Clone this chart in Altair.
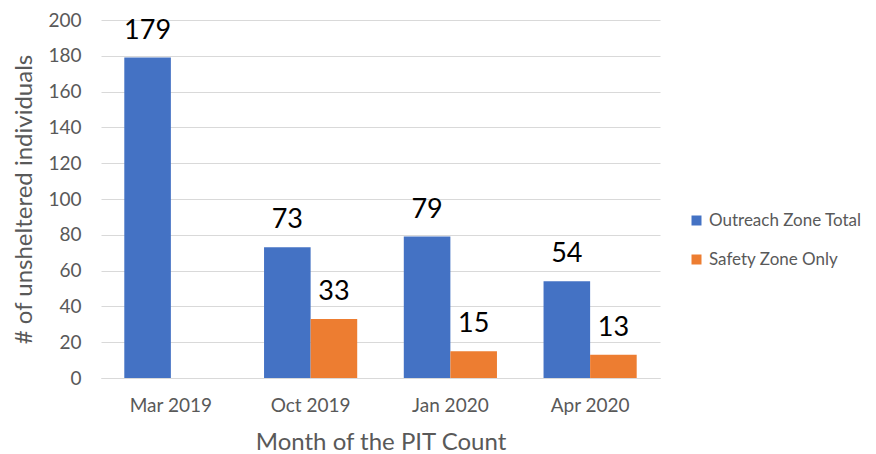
import altair as alt
import pandas as pd

months = ["Mar 2019", "Oct 2019", "Jan 2020", "Apr 2020"]
series = ["Outreach Zone Total", "Safety Zone Only"]
outreach = [179, 73, 79, 54]
safety = [None, 33, 15, 13]
colors = ["#4472C4", "#ED7D31"]
y_ticks = [0, 20, 40, 60, 80, 100, 120, 140, 160, 180, 200]

rows = []
for m, o, s in zip(months, outreach, safety):
    rows.append({"month": m, "series": series[0], "value": o})
    if s is not None:
        rows.append({"month": m, "series": series[1], "value": s})
df = pd.DataFrame(rows)

FONT = "Lato"
GRAY = "#595959"
GRID = "#d9d9d9"

base = alt.Chart(df).encode(
    x=alt.X(
        "month:N",
        sort=months,
        scale=alt.Scale(paddingInner=1 / 3, paddingOuter=1 / 6),
        axis=alt.Axis(
            title="Month of the PIT Count",
            labelAngle=0,
            labelFont=FONT,
            labelFontSize=19,
            labelColor=GRAY,
            labelPadding=18,
            titleFont=FONT,
            titleFontSize=24,
            titleFontWeight="normal",
            titleColor=GRAY,
            titlePadding=15,
            ticks=False,
            domainColor=GRID,
            domainWidth=1,
            grid=False,
        ),
    ),
    xOffset=alt.XOffset(
        "series:N",
        sort=series,
        scale=alt.Scale(domain=series, paddingInner=0, paddingOuter=0),
    ),
    y=alt.Y(
        "value:Q",
        scale=alt.Scale(domain=[0, 200], nice=False),
        axis=alt.Axis(
            title="# of unsheltered individuals",
            values=y_ticks,
            labelFont=FONT,
            labelFontSize=19,
            labelColor=GRAY,
            labelPadding=20,
            titleFont=FONT,
            titleFontSize=24,
            titleFontWeight="normal",
            titleColor=GRAY,
            titlePadding=11,
            ticks=False,
            domain=False,
            gridColor=GRID,
            gridWidth=1,
        ),
    ),
)

bars = base.mark_bar().encode(
    color=alt.Color(
        "series:N",
        scale=alt.Scale(domain=series, range=colors),
        legend=alt.Legend(
            title=None,
            orient="none",
            legendX=587,
            legendY=192,
            padding=0,
            symbolType="square",
            symbolSize=100,
            symbolStrokeWidth=0,
            labelFont=FONT,
            labelFontSize=17,
            labelColor=GRAY,
            labelOffset=4,
            labelLimit=300,
            rowPadding=21,
        ),
    )
)

labels = base.mark_text(
    baseline="alphabetic", dy=-19, font=FONT, fontSize=27, color="black"
).encode(text="value:Q")

chart = (
    alt.layer(bars, labels)
    .properties(
        width=559,
        height=358,
        autosize=alt.AutoSizeParams(type="none"),
        padding={"left": 93, "top": 12, "right": 208, "bottom": 76},
    )
    .configure_view(stroke=None)
)

chart.save("out.html", embed_options={"renderer": "svg", "actions": False})
